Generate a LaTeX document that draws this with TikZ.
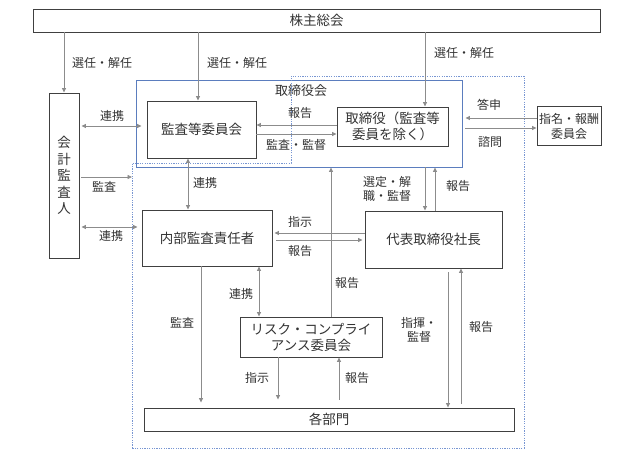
\documentclass[tikz,border=0pt]{standalone}
\usepackage{fontspec}
\setmainfont{Noto Sans CJK JP}
\usetikzlibrary{arrows.meta}
\definecolor{arrc}{RGB}{140,140,140}
\definecolor{boxc}{RGB}{64,64,64}
\definecolor{bluec}{RGB}{91,125,190}
\definecolor{dashc}{RGB}{120,150,210}
\definecolor{txtc}{RGB}{50,50,50}
\begin{document}
\begin{tikzpicture}[x=1pt,y=-1pt,
  box/.style={draw=boxc, line width=0.9pt, inner sep=0pt, align=center,
    font=\fontsize{13.5}{16}\selectfont, text=txtc},
  lbl/.style={inner sep=0pt, align=center, font=\fontsize{12}{14.5}\selectfont, text=txtc},
  arr/.style={draw=arrc, line width=0.8pt, -{Triangle[width=4pt,length=4.5pt]}},
  darr/.style={draw=arrc, line width=0.8pt,
    {Triangle[width=4pt,length=4.5pt]}-{Triangle[width=4pt,length=4.5pt]}},
  dotbox/.style={draw=dashc, line width=0.8pt, dash pattern=on 1.2pt off 1.2pt}
]
\useasboundingbox (0,0) rectangle (630,472);

% boxes
\node[box, minimum width=567pt, minimum height=23pt] (kabu) at (316.5,20.5) {株主総会};
\node[box, minimum width=30pt, minimum height=165pt, font=\fontsize{13.5}{16.5}\selectfont] (kaikei) at (64,175.5) {会\\計\\監\\査\\人};
\node[draw=bluec, line width=0.9pt, inner sep=0pt, minimum width=326pt, minimum height=87pt] (tb) at (299,123.5) {};
\node[lbl, font=\fontsize{13}{16}\selectfont] (tbt) at (301,91) {取締役会};
\node[box, minimum width=109pt, minimum height=57pt] (kansa) at (201.5,129.5) {監査等委員会};
\node[box, minimum width=111pt, minimum height=39pt] (tori) at (392.5,126.5) {取締役（監査等\\委員を除く）};
\node[box, minimum width=64pt, minimum height=39pt, font=\fontsize{12}{15}\selectfont] (shimei) at (569,126) {指名・報酬\\委員会};
\node[box, minimum width=130pt, minimum height=56pt] (naibu) at (207,238) {内部監査責任者};
\node[box, minimum width=137pt, minimum height=57pt] (daihyo) at (433.5,239.5) {代表取締役社長};
\node[box, minimum width=142pt, minimum height=40pt] (risk) at (311,337) {リスク・コンプライ\\アンス委員会};
\node[box, minimum width=370pt, minimum height=23pt] (kakubu) at (329,419.5) {各部門};

% dotted outline
\draw[dotbox] (132,448) -- (132,163) -- (291,163) -- (291,76) -- (524,76) -- (524,448) -- cycle;
\coordinate (dk) at (132,177);

% helper coordinates
\coordinate (xa) at (198,0);
\coordinate (xb) at (425,0);
\coordinate (xc) at (435,0);
\coordinate (xd) at (188,0);
\coordinate (xe) at (331,0);
\coordinate (xf) at (201,0);
\coordinate (xg) at (259,0);
\coordinate (xh) at (278,0);
\coordinate (xi) at (339,0);
\coordinate (xj) at (448,0);
\coordinate (xk) at (461,0);
\coordinate (ya) at (0,125);
\coordinate (yb) at (0,134);
\coordinate (yc) at (0,118);
\coordinate (yd) at (0,128);
\coordinate (ye) at (0,126);
\coordinate (yf) at (0,177);
\coordinate (yg) at (0,227);
\coordinate (yh) at (0,233);
\coordinate (yi) at (0,240);

% connectors
\draw[arr] (kabu.south -| kaikei) -- (kaikei.north);
\draw[arr] (kabu.south -| xa) -- (kansa.north -| xa);
\draw[arr] (kabu.south -| xb) -- (tori.north -| xb);
\draw[arr] (tori.west |- ya) -- (kansa.east |- ya);
\draw[arr] (kansa.east |- yb) -- (tori.west |- yb);
\draw[arr, shorten >=3pt] (shimei.west |- yc) -- (tb.east |- yc);
\draw[arr, shorten <=3pt] (tb.east |- yd) -- (shimei.west |- yd);
\draw[darr, shorten <=2pt, shorten >=5pt] (kaikei.east |- ye) -- (kansa.west |- ye);
\draw[arr, shorten <=2pt] (kaikei.east |- yf) -- (dk);
\draw[darr, shorten <=2pt, shorten >=4pt] (kaikei.east |- yg) -- (naibu.west |- yg);
\draw[darr] (kansa.south -| xd) -- (naibu.north -| xd);
\draw[arr] (tb.south -| xb) -- (daihyo.north -| xb);
\draw[arr] (daihyo.north -| xc) -- (tb.south -| xc);
\draw[arr, shorten >=2pt] (daihyo.west |- yh) -- (naibu.east |- yh);
\draw[arr, shorten <=4pt, shorten >=2pt] (naibu.east |- yi) -- (daihyo.west |- yi);
\draw[arr] (risk.north -| xe) -- (tb.south -| xe);
\draw[arr, shorten >=5pt] (naibu.south -| xf) -- (kakubu.north -| xf);
\draw[darr] (naibu.south -| xg) -- (risk.north -| xg);
\draw[arr, shorten >=8pt] (risk.south -| xh) -- (kakubu.north -| xh);
\draw[arr, shorten <=8pt] (kakubu.north -| xi) -- (risk.south -| xi);
\draw[arr, shorten <=4pt] (daihyo.south -| xj) -- (kakubu.north -| xj);
\draw[arr, shorten <=4pt] (kakubu.north -| xk) -- (daihyo.south -| xk);

% labels
\node[lbl] (l1) at (102,63) {選任・解任};
\node[lbl] (l2) at (237,63) {選任・解任};
\node[lbl] (l3) at (464,53) {選任・解任};
\node[lbl] (l4) at (300,113) {報告};
\node[lbl] (l5) at (296,145) {監査・監督};
\node[lbl] (l6) at (489,105) {答申};
\node[lbl] (l7) at (490,142) {諮問};
\node[lbl] (l8) at (112,116) {連携};
\node[lbl] (l9) at (104,187) {監査};
\node[lbl] (l10) at (111,236) {連携};
\node[lbl] (l11) at (205,183) {連携};
\node[lbl] (l12) at (387,189) {選定・解\\職・監督};
\node[lbl] (l13) at (458,186) {報告};
\node[lbl] (l14) at (300,222) {指示};
\node[lbl] (l15) at (300,251) {報告};
\node[lbl] (l16) at (347,283) {報告};
\node[lbl] (l17) at (241,294) {連携};
\node[lbl] (l18) at (182,323) {監査};
\node[lbl] (l19) at (419,330) {指揮・\\監督};
\node[lbl] (l20) at (481,327) {報告};
\node[lbl] (l21) at (257,378) {指示};
\node[lbl] (l22) at (357,378) {報告};
\end{tikzpicture}
\end{document}
